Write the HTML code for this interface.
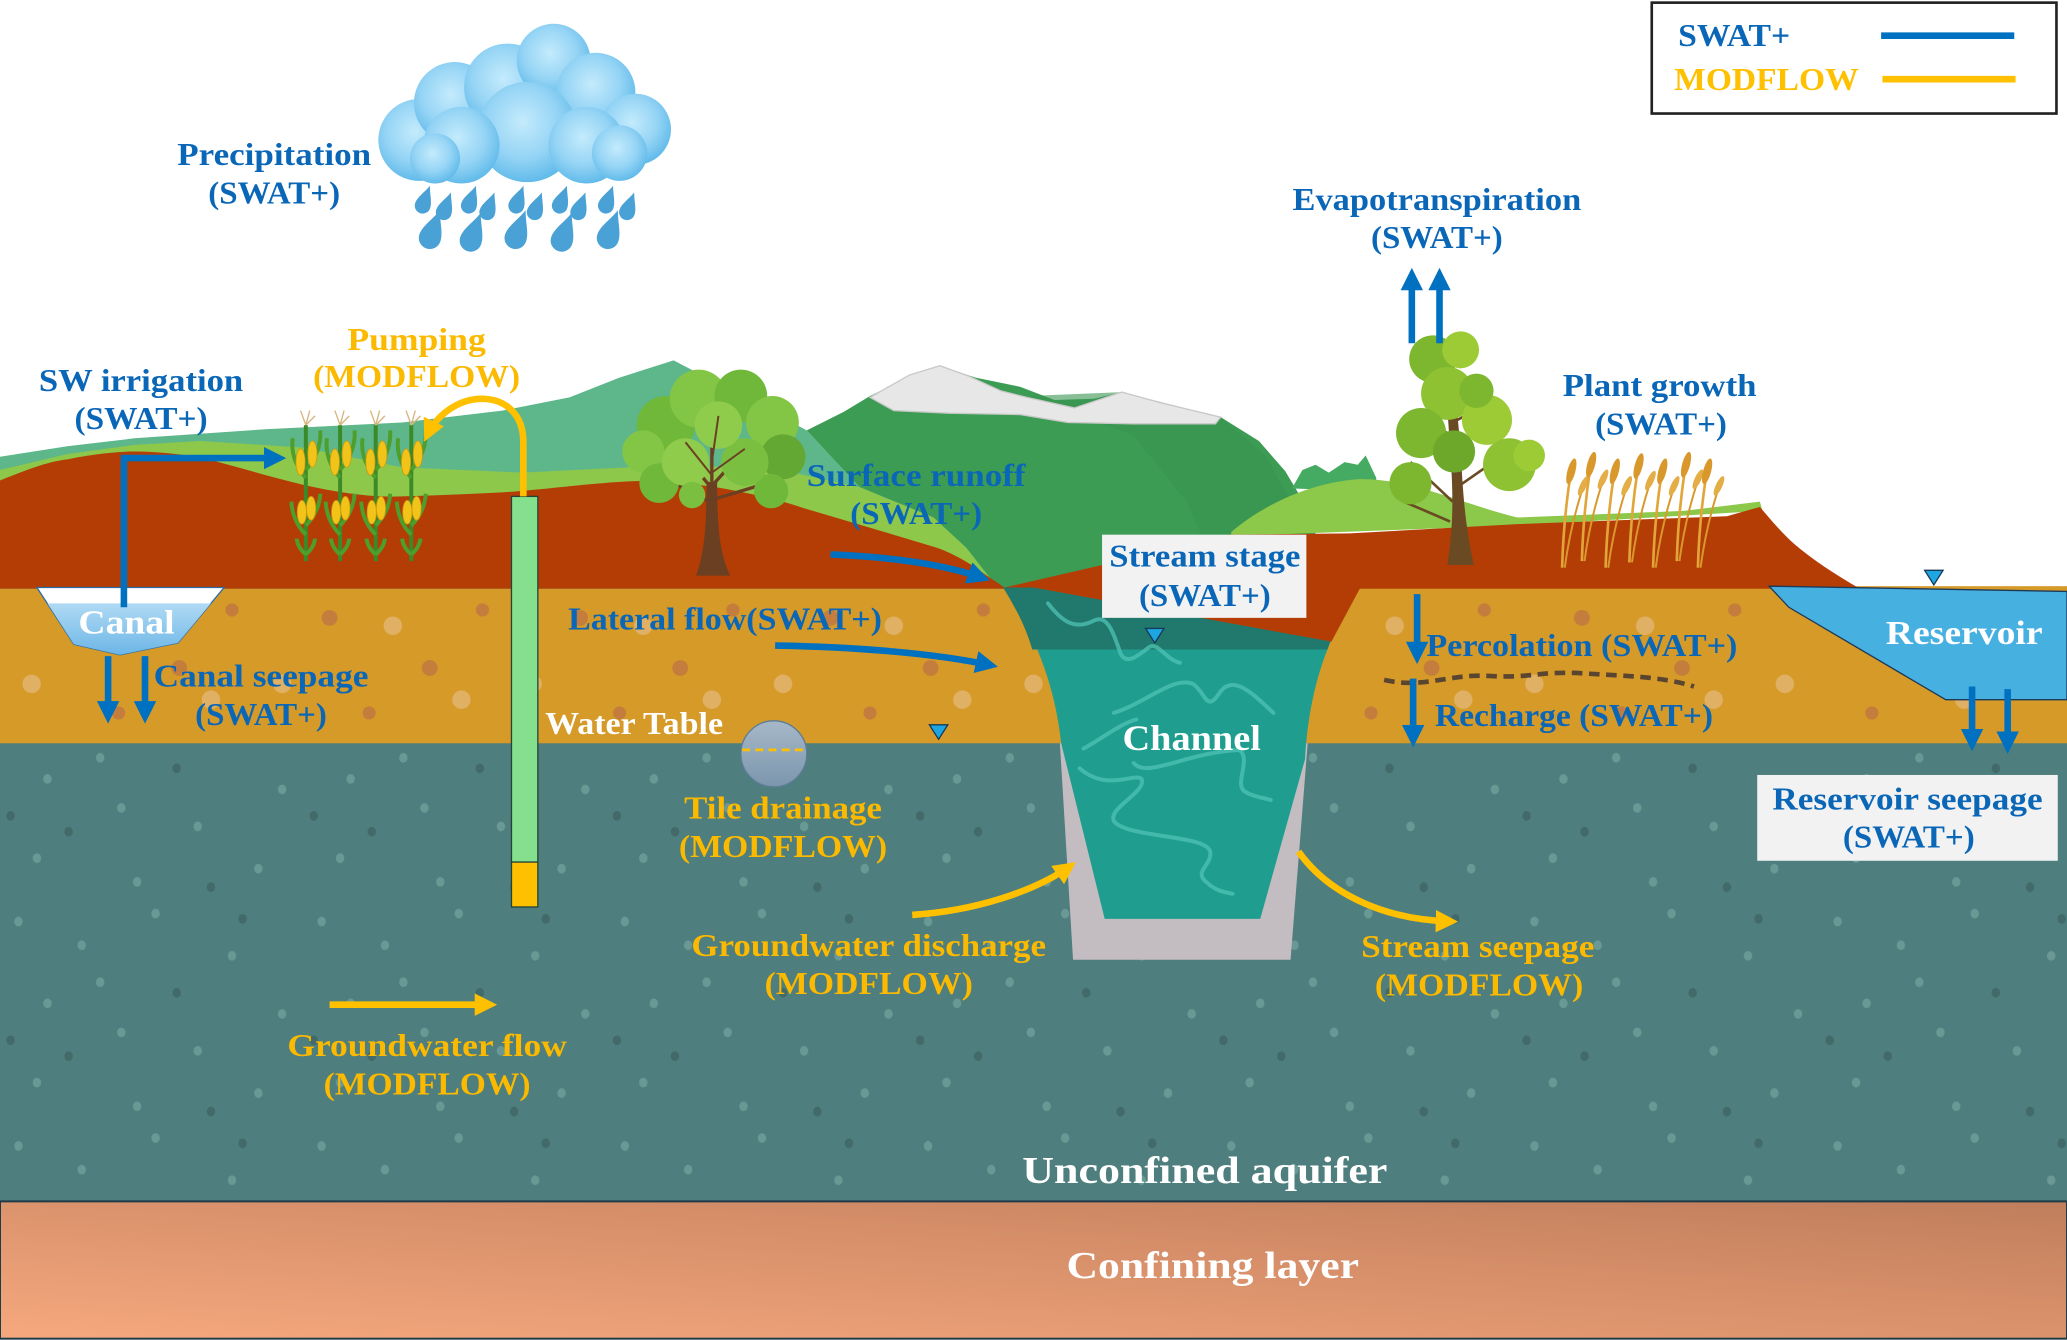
<!DOCTYPE html>
<html><head><meta charset="utf-8">
<style>
html,body{margin:0;padding:0;background:#fff;}
svg{display:block;}
text{font-family:"Liberation Serif",serif;font-weight:bold;}
</style></head><body>
<svg width="2067" height="1340" viewBox="0 0 1568 1015" preserveAspectRatio="none" xmlns="http://www.w3.org/2000/svg" xmlns:xlink="http://www.w3.org/1999/xlink">
<defs>
 <linearGradient id="conf" x1="0" y1="1" x2="1" y2="0">
  <stop offset="0" stop-color="#f6a87d"/><stop offset="1" stop-color="#c07e5c"/>
 </linearGradient>
 <linearGradient id="canalw" x1="0" y1="0" x2="0" y2="1">
  <stop offset="0" stop-color="#b0daf4"/><stop offset="1" stop-color="#6cb6e6"/>
 </linearGradient>
 <linearGradient id="tile" x1="0" y1="0" x2="0" y2="1">
  <stop offset="0" stop-color="#a6b8c8"/><stop offset="1" stop-color="#7b96ad"/>
 </linearGradient>
 <radialGradient id="cl" cx="0.45" cy="0.4" r="0.6">
  <stop offset="0" stop-color="#c4ebfc"/><stop offset="0.6" stop-color="#95d4f5"/><stop offset="1" stop-color="#62bbea"/>
 </radialGradient>
 <pattern id="aq" width="230" height="170" patternUnits="userSpaceOnUse">
  <g fill="#6a9895">
   <ellipse cx="14" cy="18" rx="3.2" ry="3.7"/><ellipse cx="62" cy="36" rx="3.2" ry="3.7"/>
   <ellipse cx="118" cy="12" rx="3.2" ry="3.7"/><ellipse cx="176" cy="44" rx="3.2" ry="3.7"/>
   <ellipse cx="214" cy="88" rx="3.2" ry="3.7"/><ellipse cx="36" cy="80" rx="3.2" ry="3.7"/>
   <ellipse cx="92" cy="102" rx="3.2" ry="3.7"/><ellipse cx="150" cy="116" rx="3.2" ry="3.7"/>
   <ellipse cx="196" cy="148" rx="3.2" ry="3.7"/><ellipse cx="28" cy="140" rx="3.2" ry="3.7"/>
   <ellipse cx="104" cy="158" rx="3.2" ry="3.7"/><ellipse cx="76" cy="64" rx="3.2" ry="3.7"/>
  </g>
  <g fill="#416a69">
   <ellipse cx="134" cy="72" rx="3.2" ry="3.7"/><ellipse cx="52" cy="120" rx="3.2" ry="3.7"/>
   <ellipse cx="184" cy="16" rx="3.2" ry="3.7"/><ellipse cx="8" cy="108" rx="3.2" ry="3.7"/>
   <ellipse cx="160" cy="162" rx="3.2" ry="3.7"/>
  </g>
 </pattern>
 <pattern id="soil" x="0" y="444" width="190" height="119" patternUnits="userSpaceOnUse">
  <g fill="#e0b064"><circle cx="24" cy="74" r="7"/><circle cx="108" cy="30" r="7"/><circle cx="160" cy="86" r="7"/></g>
  <g fill="#c47d3c"><circle cx="60" cy="24" r="6"/><circle cx="136" cy="62" r="6"/><circle cx="90" cy="96" r="5"/><circle cx="176" cy="18" r="5"/></g>
 </pattern>
 <marker id="ab" viewBox="0 0 10 10" refX="7" refY="5" markerWidth="3.4" markerHeight="3.4" orient="auto"><path d="M0,0 L10,5 L0,10 z" fill="#0070c0"/></marker>
 <marker id="ay" viewBox="0 0 10 10" refX="7" refY="5" markerWidth="3.4" markerHeight="3.4" orient="auto"><path d="M0,0 L10,5 L0,10 z" fill="#ffc000"/></marker>
 <path id="drop" d="M0,-12 C2,-6 6,-1 6,4 A6,6 0 0 1 -6,4 C-6,-1 -2,-6 0,-12 Z" fill="#4aa1d6"/>
 <g id="corn">
  <path d="M0,425 L0,322" stroke="#3a8a28" stroke-width="3" fill="none"/>
  <g stroke="#4e9e2c" stroke-width="3" fill="none">
   <path d="M0,405 Q-10,395 -11,380"/><path d="M0,398 Q10,388 11,374"/>
   <path d="M0,362 Q-12,348 -10,332"/><path d="M0,356 Q12,342 11,326"/>
   <path d="M0,420 Q-6,415 -7,408"/><path d="M0,420 Q6,415 7,408"/>
  </g>
  <g fill="#f2c318" stroke="#c99a10" stroke-width="0.6">
   <ellipse cx="-4" cy="350" rx="3.5" ry="10"/><ellipse cx="5" cy="344" rx="3.5" ry="10"/>
   <ellipse cx="-3" cy="388" rx="3.5" ry="9"/><ellipse cx="4" cy="385" rx="3.5" ry="9"/>
  </g>
  <path d="M0,322 L-4,311 M0,322 L3,311 M0,322 L7,315" stroke="#d7b47c" stroke-width="1" fill="none"/>
 </g>
 <g id="wheat">
  <path d="M0,430 Q1,395 6,362" stroke="#e2a53a" stroke-width="2" fill="none"/>
  <path d="M2,430 Q6,400 15,372" stroke="#d9982c" stroke-width="1.5" fill="none"/>
  <ellipse cx="7" cy="357" rx="3" ry="10" transform="rotate(15 7 357)" fill="#d9982c"/>
  <ellipse cx="16" cy="368" rx="2.5" ry="8" transform="rotate(25 16 368)" fill="#e4ad45"/>
 </g>
</defs>

<rect width="1568" height="1015" fill="#fff"/>

<!-- cloud -->
<g>
 <circle cx="318" cy="106" r="31" fill="url(#cl)"/>
 <circle cx="345" cy="78" r="31" fill="url(#cl)"/>
 <circle cx="385" cy="66" r="33" fill="url(#cl)"/>
 <circle cx="420" cy="46" r="28" fill="url(#cl)"/>
 <circle cx="452" cy="70" r="30" fill="url(#cl)"/>
 <circle cx="482" cy="98" r="27" fill="url(#cl)"/>
 <circle cx="400" cy="100" r="38" fill="url(#cl)"/>
 <circle cx="350" cy="110" r="29" fill="url(#cl)"/>
 <circle cx="445" cy="110" r="29" fill="url(#cl)"/>
 <circle cx="470" cy="116" r="21" fill="url(#cl)"/>
 <circle cx="330" cy="120" r="19" fill="url(#cl)"/>
</g>
<g>
 <use xlink:href="#drop" transform="translate(322,152) rotate(20) scale(1.0)"/>
 <use xlink:href="#drop" transform="translate(338,157) rotate(20) scale(1.0)"/>
 <use xlink:href="#drop" transform="translate(357,152) rotate(20) scale(1.0)"/>
 <use xlink:href="#drop" transform="translate(371,157) rotate(20) scale(1.0)"/>
 <use xlink:href="#drop" transform="translate(393,152) rotate(20) scale(1.0)"/>
 <use xlink:href="#drop" transform="translate(407,157) rotate(20) scale(1.0)"/>
 <use xlink:href="#drop" transform="translate(426,152) rotate(20) scale(1.0)"/>
 <use xlink:href="#drop" transform="translate(440,157) rotate(20) scale(1.0)"/>
 <use xlink:href="#drop" transform="translate(461,152) rotate(20) scale(1.0)"/>
 <use xlink:href="#drop" transform="translate(477,157) rotate(20) scale(1.0)"/>
 <use xlink:href="#drop" transform="translate(328,175) rotate(20) scale(1.4)"/>
 <use xlink:href="#drop" transform="translate(359,177) rotate(20) scale(1.4)"/>
 <use xlink:href="#drop" transform="translate(393,175) rotate(20) scale(1.4)"/>
 <use xlink:href="#drop" transform="translate(428,177) rotate(20) scale(1.4)"/>
 <use xlink:href="#drop" transform="translate(463,175) rotate(20) scale(1.4)"/>
</g>

<!-- ground layers -->
<rect x="0" y="444" width="1568" height="120" fill="#d59a28"/>
<rect x="0" y="444" width="1568" height="120" fill="url(#soil)"/>
<rect x="0" y="563" width="1568" height="348" fill="#4e7e7d"/>
<rect x="0" y="563" width="1568" height="348" fill="url(#aq)"/>
<rect x="0" y="910" width="1568" height="104" fill="url(#conf)" stroke="#1e3a48" stroke-width="1.5"/>

<!-- hills -->
<path d="M0,346 L51,338 L102,332 L203,325 L305,320 L381,311 L432,301 L470,286 L511,273 L559,298 L612,326 L652,369 L708,392 L733,415 L751,438 L762,446 L0,446 Z" fill="#5db78a"/>
<path d="M612,326 L640,312 L660,300 L690,285 L713,277 L740,286 L774,293 L800,303 L830,302 L851,297 L880,305 L926,316 L955,334 L975,357 L990,382 L1000,410 L1008,446 L760,446 L751,438 L733,415 L708,392 L652,369 Z" fill="#3c9c54"/>
<path d="M780,300 L851,297 L926,316 L960,345 L985,390 L1000,446 L930,446 L900,380 L860,330 Z" fill="#389450" opacity="0.6"/>
<path d="M660,301 L690,284 L713,277 L735,285 L759,296 L779,301 L815,309 L851,297 L880,305 L926,316 L922,321 L860,321 L810,320 L774,314 L720,313 L678,311 Z" fill="#e7e7e7" stroke="#c9c9c9" stroke-width="1"/>
<path d="M980,370 L988,356 L998,352 L1008,358 L1020,350 L1030,352 L1036,345 L1044,362 L1044,372 Z" fill="#46ab62"/>
<path d="M934,403 C955,385 990,366 1030,363 C1070,362 1110,382 1151,392 L1277,387 L1335,380 L1337,387 L1151,398 L934,406 Z" fill="#8cc84a"/>
<path d="M0,356 L51,344 L102,337 L152,334 L229,339 L305,354 L396,358 L457,355 L520,352 L597,357 L652,369 L708,392 L733,415 L751,438 L762,446 L0,446 Z" fill="#8dc84b"/>
<path d="M0,364 C20,356 35,350 51,348 C70,344 90,342 102,342 C120,342 135,344 150,346 C175,352 200,360 229,367 C260,374 285,377 305,376 C340,375 360,374 381,373 C420,370 440,367 457,366 C480,364 495,364 508,365 C530,367 545,369 559,372 C580,376 595,380 610,385 L661,400 L711,415 C725,420 738,428 747,435 L762,445 L862,422 L934,405 L1024,404 L1151,397 L1310,391 L1335,384 C1342,392 1350,402 1361,412 C1375,424 1392,435 1411,446 L0,446 Z" fill="#b43d05"/>

<!-- channel -->
<path d="M804,563 L814,727 L979,727 L992,563 Z" fill="#c3bcc1"/>
<path d="M761,445 C782,475 800,515 805,563 L838,696 L956,696 L990,575 C993,520 1008,480 1032,445 Z" fill="#1f9e8f"/>
<path d="M761,445 L1032,445 C1020,462 1012,476 1007,492 L783,492 C778,474 770,460 761,445 Z" fill="#20796c"/>
<path d="M784,445 L1032,445 L1010,486 Z" fill="#b43d05"/>
<g stroke="#4fc3b5" stroke-width="3" fill="none" opacity="0.75" stroke-linecap="round">
 <path d="M795,457 C805,470 815,478 830,470 C840,465 845,480 850,495 C855,505 865,495 872,490 C878,486 885,500 895,502"/>
 <path d="M845,540 C870,532 890,512 905,518 C915,525 915,540 925,525 C935,510 950,525 966,540"/>
 <path d="M819,582 C840,600 860,585 866,590 C870,600 840,612 845,622 C855,635 915,632 918,645 C920,655 905,660 915,668 C922,675 930,676 935,677"/>
 <path d="M860,578 C870,590 900,570 940,568 C950,575 935,595 945,600 C952,604 958,604 964,606"/>
 <path d="M822,567 C835,560 850,548 862,545"/>
</g>

<!-- reservoir -->
<path d="M1342,444 L1568,448 L1568,530 L1476,530 L1357,460 Z" fill="#46b0e1" stroke="#1d3a5a" stroke-width="1"/>

<!-- canal -->
<path d="M28,445 L170,445 L135,487 L91,496 L56,488 Z" fill="#fff" stroke="#2e6da4" stroke-width="1"/>
<path d="M36,457 L160,457 L135,487 L91,496 L56,488 Z" fill="url(#canalw)"/>

<!-- tree 1 -->
<path d="M528,436 C534,420 536,400 536,365 L544,365 C544,400 546,420 554,436 Z" fill="#6b3f22"/>
<g stroke="#6b3f22" stroke-width="2.5" fill="none">
 <path d="M540,370 L515,340"/><path d="M540,368 L570,335"/><path d="M540,365 L540,310"/><path d="M538,380 L500,360"/><path d="M542,378 L585,365"/>
</g>
<g>
 <circle cx="505" cy="322" r="22" fill="#6fb83a"/>
 <circle cx="530" cy="302" r="22" fill="#83c545"/>
 <circle cx="562" cy="300" r="20" fill="#6fb83a"/>
 <circle cx="586" cy="320" r="20" fill="#83c545"/>
 <circle cx="594" cy="346" r="17" fill="#62a832"/>
 <circle cx="488" cy="342" r="16" fill="#83c545"/>
 <circle cx="500" cy="366" r="15" fill="#6fb83a"/>
 <circle cx="585" cy="372" r="13" fill="#6fb83a"/>
 <circle cx="520" cy="350" r="18" fill="#8fcc4c"/>
 <circle cx="565" cy="350" r="18" fill="#7abf40"/>
 <circle cx="545" cy="322" r="18" fill="#8fcc4c"/>
 <circle cx="525" cy="375" r="10" fill="#7abf40"/>
</g>
<g stroke="#6b3f22" stroke-width="1.5" fill="none">
 <path d="M540,360 L520,335"/><path d="M540,358 L565,340"/><path d="M540,350 L545,315"/>
</g>

<!-- tree 2 -->
<path d="M1098,428 C1102,400 1103,380 1100,340 L1095,265 L1101,265 L1108,340 C1110,380 1112,400 1118,428 Z" fill="#6a4a22"/>
<g stroke="#6a4a22" stroke-width="2" fill="none">
 <path d="M1102,380 L1070,350"/><path d="M1104,370 L1140,345"/><path d="M1100,330 L1075,310"/><path d="M1102,320 L1130,305"/><path d="M1100,395 L1065,380"/>
</g>
<g>
 <circle cx="1087" cy="272" r="18" fill="#7db72f"/>
 <circle cx="1108" cy="265" r="14" fill="#9dcb36"/>
 <circle cx="1098" cy="298" r="20" fill="#8ec232"/>
 <circle cx="1078" cy="328" r="19" fill="#7db72f"/>
 <circle cx="1128" cy="318" r="19" fill="#9dcb36"/>
 <circle cx="1103" cy="342" r="16" fill="#6ea82a"/>
 <circle cx="1145" cy="352" r="20" fill="#8ec232"/>
 <circle cx="1070" cy="366" r="16" fill="#7db72f"/>
 <circle cx="1160" cy="345" r="12" fill="#9dcb36"/>
 <circle cx="1120" cy="296" r="13" fill="#7db72f"/>
</g>

<!-- corn -->
<use xlink:href="#corn" x="232"/>
<use xlink:href="#corn" x="258"/>
<use xlink:href="#corn" x="285"/>
<use xlink:href="#corn" x="312"/>

<!-- wheat -->
<use xlink:href="#wheat" x="1185"/>
<use xlink:href="#wheat" x="1200" y="-5"/>
<use xlink:href="#wheat" x="1218"/>
<use xlink:href="#wheat" x="1236" y="-4"/>
<use xlink:href="#wheat" x="1254"/>
<use xlink:href="#wheat" x="1272" y="-5"/>
<use xlink:href="#wheat" x="1288"/>

<!-- well -->
<rect x="388" y="376" width="20" height="277" fill="#84e08d" stroke="#25433a" stroke-width="1"/>
<rect x="388" y="653" width="20" height="34" fill="#ffc000" stroke="#25433a" stroke-width="1"/>

<!-- tile drainage -->
<circle cx="587" cy="571" r="25" fill="url(#tile)" stroke="#5d7d96" stroke-width="1"/>
<line x1="563" y1="568" x2="613" y2="568" stroke="#ffc000" stroke-width="2" stroke-dasharray="6,4"/>

<!-- water level markers -->
<polygon points="869,476 883,476 876,487" fill="#1ea6e3" stroke="#163a58" stroke-width="1"/>
<polygon points="705,549 719,549 712,560" fill="#1ea6e3" stroke="#163a58" stroke-width="1"/>
<polygon points="1460,432 1474,432 1467,443" fill="#1ea6e3" stroke="#163a58" stroke-width="1"/>

<!-- dashed line percolation -->
<path d="M1050,515 C1080,522 1100,510 1130,512 C1160,514 1170,508 1200,510 C1230,512 1260,512 1285,520" stroke="#5a4530" stroke-width="3.5" fill="none" stroke-dasharray="8,5"/>

<!-- blue arrows -->
<g stroke="#0070c0" stroke-width="5" fill="none">
 <path d="M94,460 L94,347 L212,347" marker-end="url(#ab)" stroke-linejoin="miter"/>
 <path d="M82,497 L82,543" marker-end="url(#ab)"/>
 <path d="M110,497 L110,543" marker-end="url(#ab)"/>
 <path d="M630,420 C680,422 718,428 746,438" marker-end="url(#ab)"/>
 <path d="M588,489 C650,490 710,495 752,504" marker-end="url(#ab)"/>
 <path d="M1071,260 L1071,208" marker-end="url(#ab)"/>
 <path d="M1092,260 L1092,208" marker-end="url(#ab)"/>
 <path d="M1075,450 L1075,498" marker-end="url(#ab)"/>
 <path d="M1072,514 L1072,561" marker-end="url(#ab)"/>
 <path d="M1496,520 L1496,564" marker-end="url(#ab)"/>
 <path d="M1523,522 L1523,566" marker-end="url(#ab)"/>
</g>
<!-- yellow arrows -->
<g stroke="#ffc000" stroke-width="5" fill="none">
 <path d="M397,376 L397,335 C397,292 342,292 324,330" marker-end="url(#ay)"/>
 <path d="M692,693 C740,690 785,675 812,656" marker-end="url(#ay)"/>
 <path d="M985,645 C1010,680 1055,697 1101,698" marker-end="url(#ay)"/>
 <path d="M250,761 L372,761" marker-end="url(#ay)"/>
</g>

<!-- boxes -->
<rect x="836" y="405" width="155" height="63" fill="#f2f2f2"/>
<rect x="1333" y="587" width="228" height="65" fill="#f2f2f2"/>

<!-- legend -->
<rect x="1253" y="2" width="307" height="84" fill="#fff" stroke="#222" stroke-width="2"/>
<line x1="1427" y1="27" x2="1528" y2="27" stroke="#0070c0" stroke-width="5"/>
<line x1="1428" y1="60" x2="1529" y2="60" stroke="#ffc000" stroke-width="5"/>
<text x="1273" y="35" font-size="24" fill="#0a66b7" textLength="85" lengthAdjust="spacingAndGlyphs">SWAT+</text>
<text x="1270" y="68" font-size="24" fill="#ffc000" textLength="140" lengthAdjust="spacingAndGlyphs">MODFLOW</text>

<!-- blue labels -->
<g fill="#0a66b7" font-size="24" text-anchor="middle">
 <text x="208" y="125" textLength="147" lengthAdjust="spacingAndGlyphs">Precipitation</text>
 <text x="208" y="154" textLength="100" lengthAdjust="spacingAndGlyphs">(SWAT+)</text>
 <text x="107" y="296" textLength="155" lengthAdjust="spacingAndGlyphs">SW irrigation</text>
 <text x="107" y="325" textLength="101" lengthAdjust="spacingAndGlyphs">(SWAT+)</text>
 <text x="695" y="368" textLength="166" lengthAdjust="spacingAndGlyphs">Surface runoff</text>
 <text x="695" y="397" textLength="100" lengthAdjust="spacingAndGlyphs">(SWAT+)</text>
 <text x="1090" y="159" textLength="219" lengthAdjust="spacingAndGlyphs">Evapotranspiration</text>
 <text x="1090" y="188" textLength="100" lengthAdjust="spacingAndGlyphs">(SWAT+)</text>
 <text x="1259" y="300" textLength="147" lengthAdjust="spacingAndGlyphs">Plant growth</text>
 <text x="1260" y="329" textLength="100" lengthAdjust="spacingAndGlyphs">(SWAT+)</text>
 <text x="914" y="429" textLength="145" lengthAdjust="spacingAndGlyphs">Stream stage</text>
 <text x="914" y="459" textLength="100" lengthAdjust="spacingAndGlyphs">(SWAT+)</text>
 <text x="198" y="520" textLength="163" lengthAdjust="spacingAndGlyphs">Canal seepage</text>
 <text x="198" y="549" textLength="100" lengthAdjust="spacingAndGlyphs">(SWAT+)</text>
 <text x="550" y="477" textLength="238" lengthAdjust="spacingAndGlyphs">Lateral flow(SWAT+)</text>
 <text x="1200" y="497" textLength="236" lengthAdjust="spacingAndGlyphs">Percolation (SWAT+)</text>
 <text x="1194" y="550" textLength="211" lengthAdjust="spacingAndGlyphs">Recharge (SWAT+)</text>
 <text x="1447" y="613" textLength="205" lengthAdjust="spacingAndGlyphs">Reservoir seepage</text>
 <text x="1448" y="642" textLength="100" lengthAdjust="spacingAndGlyphs">(SWAT+)</text>
</g>
<!-- yellow labels -->
<g fill="#fbb900" font-size="24" text-anchor="middle">
 <text x="316" y="265" textLength="105" lengthAdjust="spacingAndGlyphs">Pumping</text>
 <text x="316" y="293" textLength="157" lengthAdjust="spacingAndGlyphs">(MODFLOW)</text>
 <text x="594" y="620" textLength="150" lengthAdjust="spacingAndGlyphs">Tile drainage</text>
 <text x="594" y="649" textLength="158" lengthAdjust="spacingAndGlyphs">(MODFLOW)</text>
 <text x="659" y="724" textLength="269" lengthAdjust="spacingAndGlyphs">Groundwater discharge</text>
 <text x="659" y="753" textLength="158" lengthAdjust="spacingAndGlyphs">(MODFLOW)</text>
 <text x="1121" y="725" textLength="177" lengthAdjust="spacingAndGlyphs">Stream seepage</text>
 <text x="1122" y="754" textLength="158" lengthAdjust="spacingAndGlyphs">(MODFLOW)</text>
 <text x="324" y="800" textLength="212" lengthAdjust="spacingAndGlyphs">Groundwater flow</text>
 <text x="324" y="829" textLength="157" lengthAdjust="spacingAndGlyphs">(MODFLOW)</text>
</g>
<!-- white labels -->
<g fill="#ffffff" text-anchor="middle">
 <text x="96" y="480" font-size="26" textLength="73" lengthAdjust="spacingAndGlyphs">Canal</text>
 <text x="481" y="556" font-size="24" textLength="135" lengthAdjust="spacingAndGlyphs">Water Table</text>
 <text x="904" y="568" font-size="27" textLength="105" lengthAdjust="spacingAndGlyphs">Channel</text>
 <text x="1490" y="488" font-size="26" textLength="119" lengthAdjust="spacingAndGlyphs">Reservoir</text>
 <text x="914" y="896" font-size="29" textLength="277" lengthAdjust="spacingAndGlyphs">Unconfined aquifer</text>
 <text x="920" y="968" font-size="29" textLength="222" lengthAdjust="spacingAndGlyphs">Confining layer</text>
</g>
</svg>
</body></html>
